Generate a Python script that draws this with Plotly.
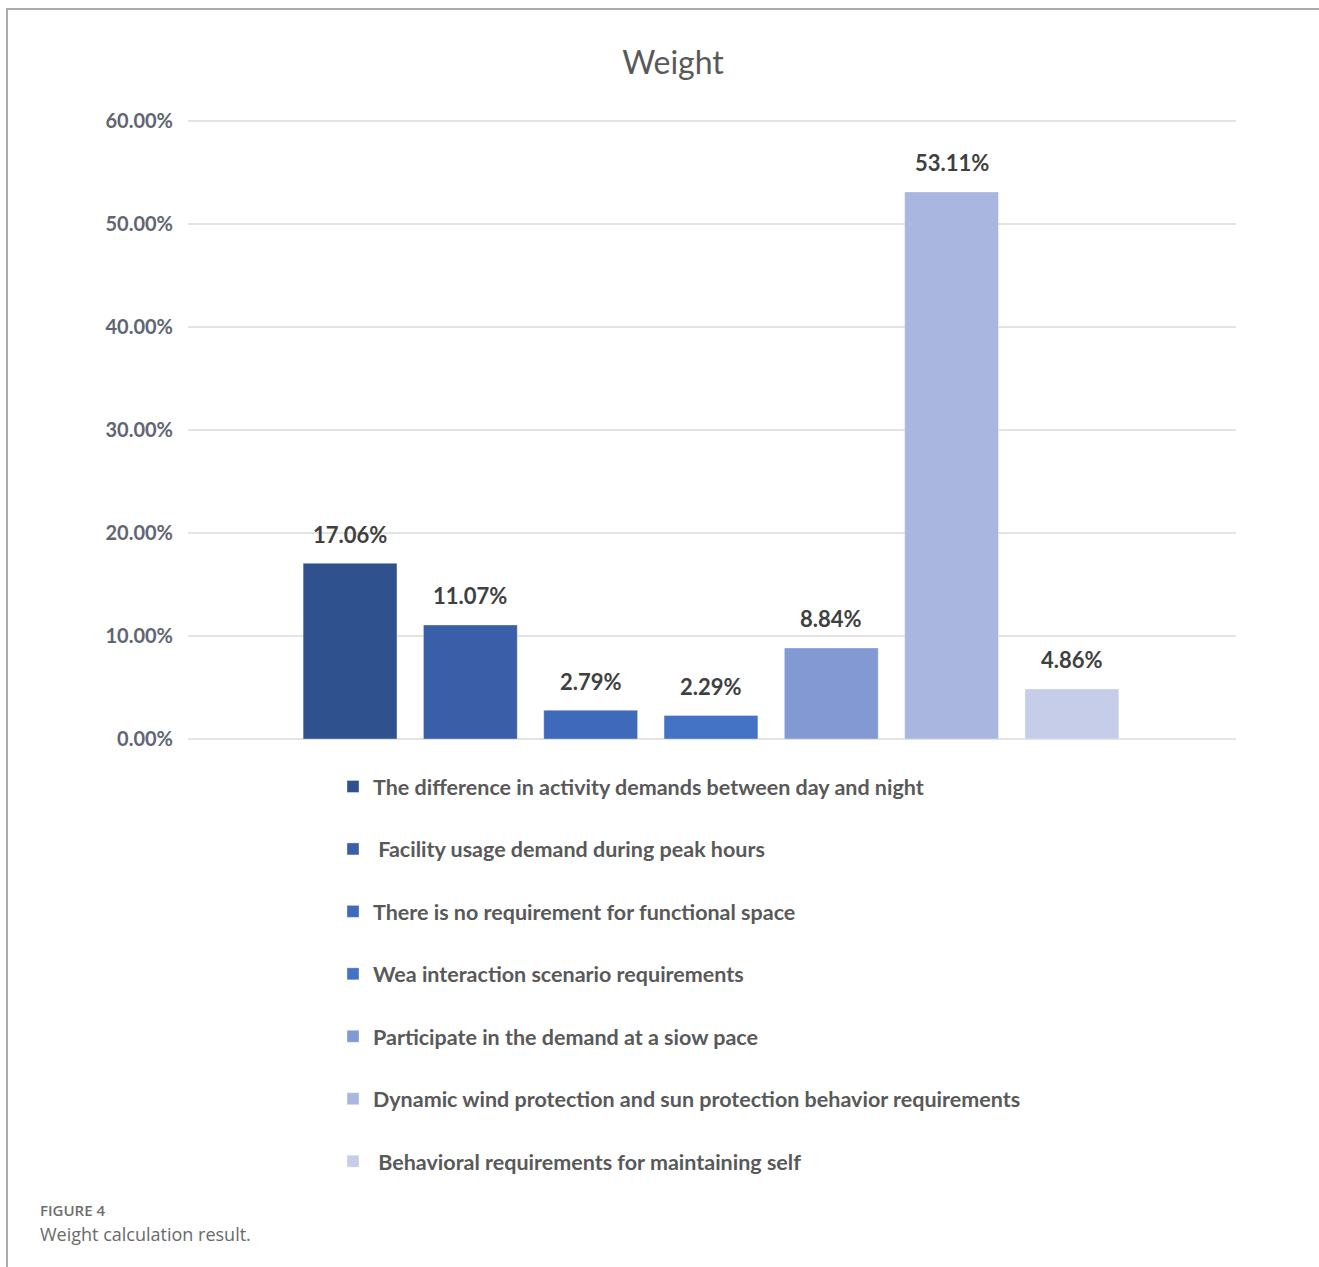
import plotly.graph_objects as go

series_names = [
    "The difference in activity demands between day and night",
    "\u00a0Facility usage demand during peak hours",
    "There is no requirement for functional space",
    "Wea interaction scenario requirements",
    "Participate in the demand at a siow pace",
    "Dynamic wind protection and sun protection behavior requirements",
    "\u00a0Behavioral requirements for maintaining self",
]
weights = [17.06, 11.07, 2.79, 2.29, 8.84, 53.11, 4.86]
colors = ["#2F528F", "#3A5FA8", "#3F69BA", "#4472C4", "#8299D3", "#A8B6E0", "#C5CDE8"]
y_ticks = [0, 10, 20, 30, 40, 50, 60]
y_tick_labels = ["0.00%", "10.00%", "20.00%", "30.00%", "40.00%", "50.00%", "60.00%"]

W, H = 1319, 1267
L, R, B = 188, 1236, 739
PX_PER_UNIT = 10.3
T = 118
YMAX = (B - T) / PX_PER_UNIT
pw, ph = R - L, B - T

def px(x):
    return (x - L) / pw

def py(y):
    return (B - y) / ph

fig = go.Figure()
for i, (name, v, c) in enumerate(zip(series_names, weights, colors)):
    fig.add_trace(go.Bar(
        x=[i], y=[v], name=name, width=0.78,
        marker=dict(color=c, line=dict(color="rgba(255,255,255,0.35)", width=1)),
        legendgroup=f"g{i}", hoverinfo="name+y",
    ))
    fig.add_annotation(
        x=i, y=v, text=f"{v:.2f}%", showarrow=False, yanchor="middle", yshift=29,
        font=dict(family="Lato", size=22, color="#404040", weight="bold"),
    )

shapes = [
    dict(type="line", xref="paper", yref="paper", x0=px(6), x1=px(1319), y0=py(9), y1=py(9),
         line=dict(color="#ABABAB", width=2)),
    dict(type="line", xref="paper", yref="paper", x0=px(7), x1=px(7), y0=py(9), y1=py(1267),
         line=dict(color="#ABABAB", width=2)),
]

fig.add_annotation(xref="paper", yref="paper", x=px(38), y=py(1210), xanchor="left", yanchor="middle",
                   text="FIGURE 4", showarrow=False,
                   font=dict(family="Open Sans", size=15, color="#6E6E6E", weight=600))
fig.add_annotation(xref="paper", yref="paper", x=px(38), y=py(1234), xanchor="left", yanchor="middle",
                   text="Weight calculation result.", showarrow=False,
                   font=dict(family="Open Sans", size=18, color="#6A6A6A"))

fig.update_layout(
    width=W, height=H,
    margin=dict(l=L, r=W - R, t=T, b=H - B, pad=0),
    paper_bgcolor="white", plot_bgcolor="white",
    barmode="overlay",
    title=dict(text="Weight", x=673 / W, xanchor="center", y=1 - 63 / H, yanchor="middle",
               xref="container", yref="container",
               font=dict(family="Lato", size=32, color="#595959")),
    xaxis=dict(range=[-1.347, 7.364], showticklabels=False, showgrid=False, zeroline=False,
               showline=False, fixedrange=True),
    yaxis=dict(range=[0, YMAX], tickvals=y_ticks, ticktext=y_tick_labels,
               showgrid=True, gridcolor="#E3E3E3", gridwidth=1.5, zeroline=True,
               zerolinecolor="#E3E3E3", zerolinewidth=1.5, showline=False, ticks="",
               ticklabelstandoff=14,
               tickfont=dict(family="Lato", size=20, color="#5F6573", weight="bold")),
    showlegend=True,
    legend=dict(x=px(333), xanchor="left", y=py(766), yanchor="top",
                orientation="v", tracegroupgap=31.5, traceorder="grouped",
                font=dict(family="Lato", size=21.5, color="#595959", weight="bold"),
                bgcolor="rgba(0,0,0,0)"),
    shapes=shapes,
)

fig.write_html("out.html", config={"displayModeBar": False},
               post_script="document.body.style.margin='0';document.body.style.overflow='hidden';")
